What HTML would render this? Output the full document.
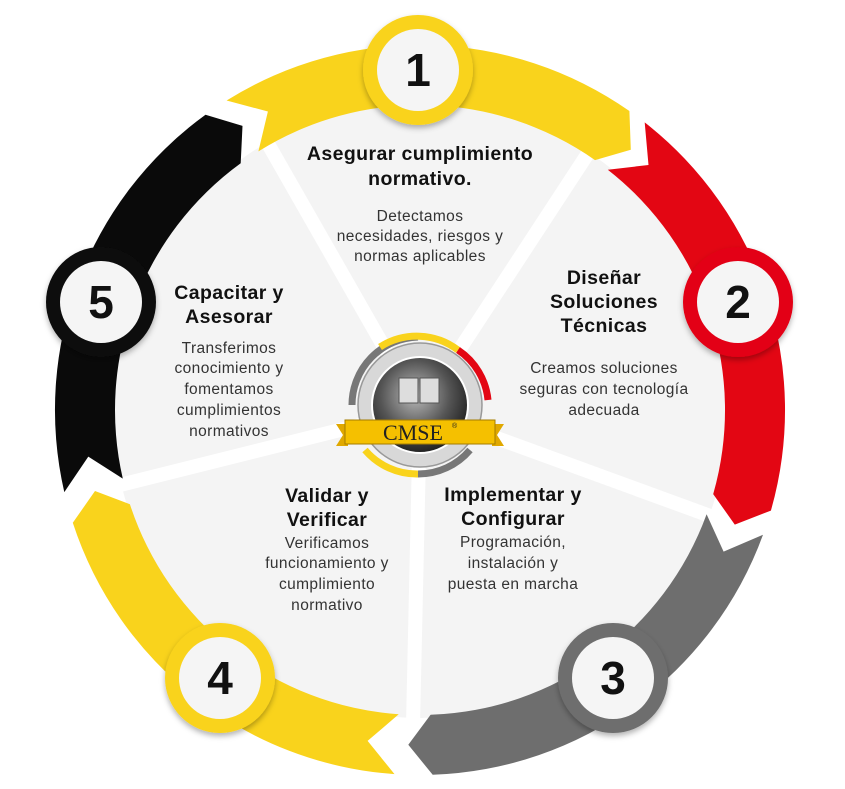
<!DOCTYPE html>
<html><head><meta charset="utf-8"><style>
html,body{margin:0;padding:0;background:#fff;}
svg{display:block;}
.t{font-family:"Liberation Sans",sans-serif;font-weight:bold;font-size:19.5px;letter-spacing:0.4px;fill:#111;text-anchor:middle;}
.b{font-family:"Liberation Sans",sans-serif;font-size:15.5px;letter-spacing:0.4px;fill:#333;text-anchor:middle;}
.n{font-family:"Liberation Sans",sans-serif;font-weight:bold;font-size:46px;fill:#111;text-anchor:middle;}
</style></head><body>
<svg width="845" height="789" viewBox="0 0 845 789" xmlns="http://www.w3.org/2000/svg">
<defs>
<filter id="sh" x="-30%" y="-30%" width="160%" height="160%"><feDropShadow dx="0" dy="3" stdDeviation="3" flood-opacity="0.3"/></filter>
<radialGradient id="gl" cx="0.45" cy="0.4" r="0.6"><stop offset="0" stop-color="#bbb"/><stop offset="0.6" stop-color="#555"/><stop offset="1" stop-color="#222"/></radialGradient>
</defs>
<circle cx="420" cy="410" r="308" fill="#f4f4f4"/>
<g stroke="#fff" stroke-width="14">
<line x1="420" y1="410" x2="243" y2="100"/>
<line x1="420" y1="410" x2="600" y2="135"/>
<line x1="420" y1="410" x2="735" y2="525"/>
<line x1="420" y1="410" x2="412" y2="770"/>
<line x1="420" y1="410" x2="80" y2="495"/>
</g>
<path d="M226.6,100.5 A365,365 0 0 1 629.4,111.0 L630.8,149.7 L595.0,160.1 A305,305 0 0 0 258.4,151.4 L267.9,111.5 Z" fill="#f9d31c"/>
<path d="M644.7,122.4 A365,365 0 0 1 770.9,510.6 L734.8,524.6 L713.2,494.1 A305,305 0 0 0 607.8,169.7 L648.5,165.0 Z" fill="#e30613"/>
<path d="M763.0,534.8 A365,365 0 0 1 432.7,774.8 L408.3,744.8 L430.6,714.8 A305,305 0 0 0 706.6,514.3 L723.6,551.6 Z" fill="#6e6e6e"/>
<path d="M394.5,774.1 A365,365 0 0 1 72.8,522.8 L95.0,491.0 L129.9,504.2 A305,305 0 0 0 398.7,714.3 L367.6,740.9 Z" fill="#f9d31c"/>
<path d="M64.3,492.1 A365,365 0 0 1 205.5,114.7 L242.5,125.9 L240.7,163.3 A305,305 0 0 0 122.8,478.6 L88.3,456.6 Z" fill="#0a0a0a"/>
<g filter="url(#sh)">
<circle cx="418" cy="70" r="55" fill="#f9d31c"/>
<circle cx="738" cy="302" r="55" fill="#e30613"/>
<circle cx="613" cy="678" r="55" fill="#6e6e6e"/>
<circle cx="220" cy="678" r="55" fill="#f9d31c"/>
<circle cx="101" cy="302" r="55" fill="#0a0a0a"/>
</g>
<g fill="#f5f5f5">
<circle cx="418" cy="70" r="41"/><circle cx="738" cy="302" r="41"/><circle cx="613" cy="678" r="41"/><circle cx="220" cy="678" r="41"/><circle cx="101" cy="302" r="41"/>
</g>
<text class="n" x="418" y="86">1</text>
<text class="n" x="738" y="318">2</text>
<text class="n" x="613" y="694">3</text>
<text class="n" x="220" y="694">4</text>
<text class="n" x="101" y="318">5</text>

<g>
<path d="M352,405 A68,68 0 0 1 418,337" fill="none" stroke="#777" stroke-width="7"/>
<path d="M380,347 A68,68 0 0 1 458,350" fill="none" stroke="#f9d31c" stroke-width="7"/>
<path d="M458,350 A68,68 0 0 1 488,400" fill="none" stroke="#e30613" stroke-width="7"/>
<path d="M365,450 A68,68 0 0 0 418,474" fill="none" stroke="#f9d31c" stroke-width="7"/>
<path d="M418,474 A68,68 0 0 0 470,450" fill="none" stroke="#777" stroke-width="7"/>
<circle cx="420" cy="405" r="62" fill="#d8d8d8" stroke="#999" stroke-width="1.5"/>
<circle cx="420" cy="405" r="48" fill="url(#gl)" stroke="#fff" stroke-width="2"/>
<rect x="399" y="378" width="19" height="25" fill="#ddd" stroke="#555"/>
<rect x="420" y="378" width="19" height="25" fill="#ddd" stroke="#555"/>
<path d="M336,424 L348,424 L348,446 L336,446 L343,435 Z" fill="#e0a800"/>
<path d="M504,424 L492,424 L492,446 L504,446 L497,435 Z" fill="#e0a800"/>
<rect x="345" y="420" width="150" height="24" fill="#f5c000" stroke="#a57c00"/>
<text x="413" y="440" font-family="Liberation Serif,serif" font-size="22" fill="#222" text-anchor="middle">CMSE</text>
<text x="452" y="428" font-family="Liberation Sans,sans-serif" font-size="7" fill="#222">®</text>
</g>

<text class="t" x="420" y="160">Asegurar cumplimiento</text>
<text class="t" x="420" y="185">normativo.</text>
<text class="b" x="420" y="221">Detectamos</text>
<text class="b" x="420" y="241">necesidades, riesgos y</text>
<text class="b" x="420" y="261">normas aplicables</text>

<text class="t" x="604" y="284">Diseñar</text>
<text class="t" x="604" y="308">Soluciones</text>
<text class="t" x="604" y="332">Técnicas</text>
<text class="b" x="604" y="373">Creamos soluciones</text>
<text class="b" x="604" y="394">seguras con tecnología</text>
<text class="b" x="604" y="415">adecuada</text>

<text class="t" x="229" y="299">Capacitar y</text>
<text class="t" x="229" y="323">Asesorar</text>
<text class="b" x="229" y="353">Transferimos</text>
<text class="b" x="229" y="373">conocimiento y</text>
<text class="b" x="229" y="394">fomentamos</text>
<text class="b" x="229" y="415">cumplimientos</text>
<text class="b" x="229" y="436">normativos</text>

<text class="t" x="327" y="502">Validar y</text>
<text class="t" x="327" y="526">Verificar</text>
<text class="b" x="327" y="548">Verificamos</text>
<text class="b" x="327" y="568">funcionamiento y</text>
<text class="b" x="327" y="589">cumplimiento</text>
<text class="b" x="327" y="610">normativo</text>

<text class="t" x="513" y="501">Implementar y</text>
<text class="t" x="513" y="525">Configurar</text>
<text class="b" x="513" y="547">Programación,</text>
<text class="b" x="513" y="568">instalación y</text>
<text class="b" x="513" y="589">puesta en marcha</text>
</svg>
</body></html>
